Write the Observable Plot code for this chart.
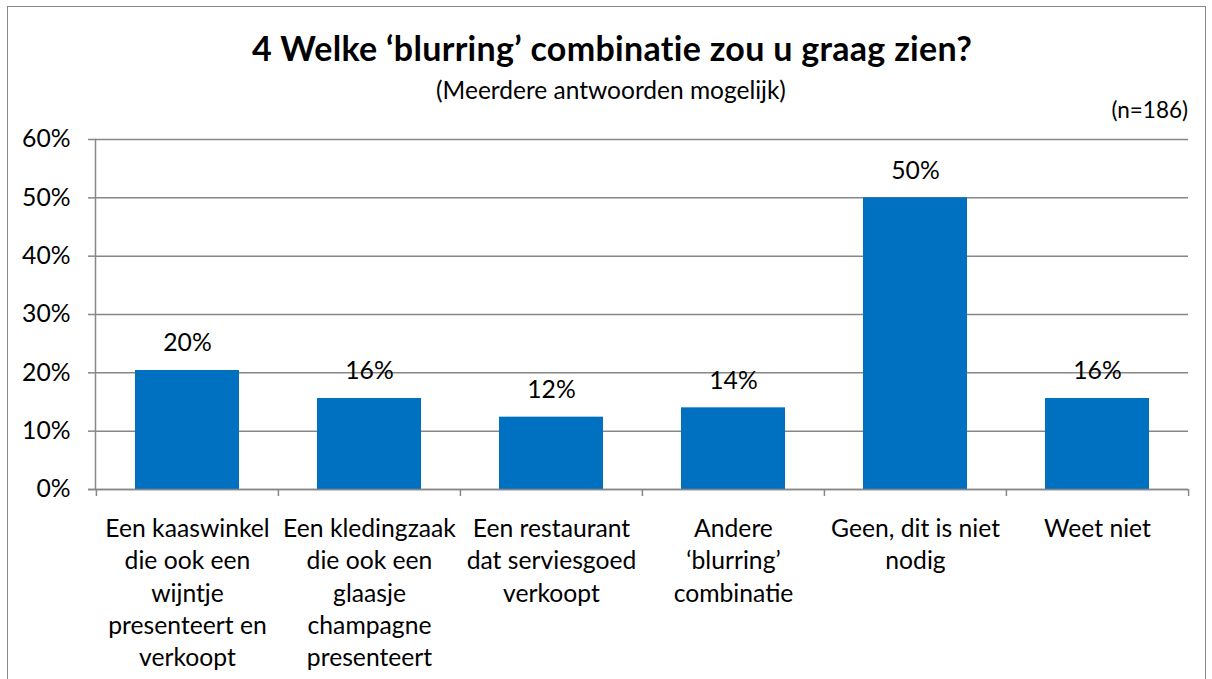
<!DOCTYPE html>
<html><head><meta charset="utf-8">
<script src="https://cdn.jsdelivr.net/npm/d3@7"></script>
<script src="https://cdn.jsdelivr.net/npm/@observablehq/plot@0.6"></script>
<style>
html,body{margin:0;padding:0;background:#fff;}
body{font-family:Lato, "Open Sans", sans-serif;color:#000;width:1212px;height:679px;overflow:hidden;position:relative;}
#frame{position:absolute;left:7px;top:6px;width:1199px;height:700px;border:1.5px solid #898989;box-sizing:border-box;}
#title{position:absolute;top:28px;left:0;width:1224px;text-align:center;font-weight:bold;font-size:34px;line-height:40px;letter-spacing:0.3px;white-space:nowrap;}
#subtitle{position:absolute;top:75px;left:0;width:1222px;text-align:center;font-size:24.5px;line-height:30px;white-space:nowrap;}
#n{position:absolute;top:96px;right:24px;font-size:22.5px;line-height:27px;}
#chart{position:absolute;left:0;top:120px;}
</style>
</head><body>
<div id="frame"></div>
<div id="title">4 Welke ‘blurring’ combinatie zou u graag zien?</div>
<div id="subtitle">(Meerdere antwoorden mogelijk)</div>
<div id="n">(n=186)</div>
<div id="chart"></div>
<script>
const categories = [
  "Een kaaswinkel\ndie ook een\nwijntje\npresenteert en\nverkoopt",
  "Een kledingzaak\ndie ook een\nglaasje\nchampagne\npresenteert",
  "Een restaurant\ndat serviesgoed\nverkoopt",
  "Andere\n‘blurring’\ncombinatie",
  "Geen, dit is niet\nnodig",
  "Weet niet"
];
const values = [0.204, 0.156, 0.124, 0.140, 0.500, 0.156];
const valueLabels = ["20%", "16%", "12%", "14%", "50%", "16%"];
const yTicks = [0, 0.1, 0.2, 0.3, 0.4, 0.5, 0.6];

const data = categories.map((c, i) => ({cat: c, value: values[i], label: valueLabels[i]}));

const W = 1212, H = 559, mL = 95, mR = 24, mT = 19, mB = 190;
const step = (W - mL - mR) / categories.length;
const grey = "#878787";
const fs = 24.7;

const chart = Plot.plot({
  width: W, height: H,
  marginLeft: mL, marginRight: mR, marginTop: mT, marginBottom: mB,
  style: {fontFamily: "Lato, 'Open Sans', sans-serif", background: "transparent", color: "#000"},
  x: {domain: categories, paddingInner: 0.43, paddingOuter: 0.215, axis: null},
  y: {domain: [0, 0.6], axis: null},
  marks: [
    Plot.gridY(yTicks, {stroke: grey, strokeOpacity: 1, strokeWidth: 1.5}),
    Plot.frame({anchor: "left", stroke: grey, strokeWidth: 1.5}),
    Plot.axisY(yTicks, {tickFormat: d3.format(".0%"), tickSize: 7, tickPadding: 18, fontSize: fs, stroke: grey, strokeWidth: 1.5, strokeOpacity: 1, fill: "#000", label: null}),
    Plot.barY(data, {x: "cat", y: "value", fill: "#0070C0"}),
    Plot.ruleY([0], {stroke: grey, strokeWidth: 1.5, insetLeft: -7}),
    Plot.ruleX(categories, {x: d => d, y1: 0, y2: 0, insetBottom: -7, dx: -step / 2, stroke: grey, strokeWidth: 1.5}),
    Plot.ruleX(categories.slice(-1), {x: d => d, y1: 0, y2: 0, insetBottom: -7, dx: step / 2, stroke: grey, strokeWidth: 1.5}),
    Plot.text(data, {x: "cat", y: "value", text: "label", dy: -27, fontSize: fs, fill: "#000"}),
    Plot.text(categories, {x: d => d, text: d => d, frameAnchor: "bottom", lineAnchor: "top", dy: 25, lineHeight: 1.3, fontSize: fs, fill: "#000"})
  ]
});
document.getElementById("chart").appendChild(chart);
</script>
</body></html>
